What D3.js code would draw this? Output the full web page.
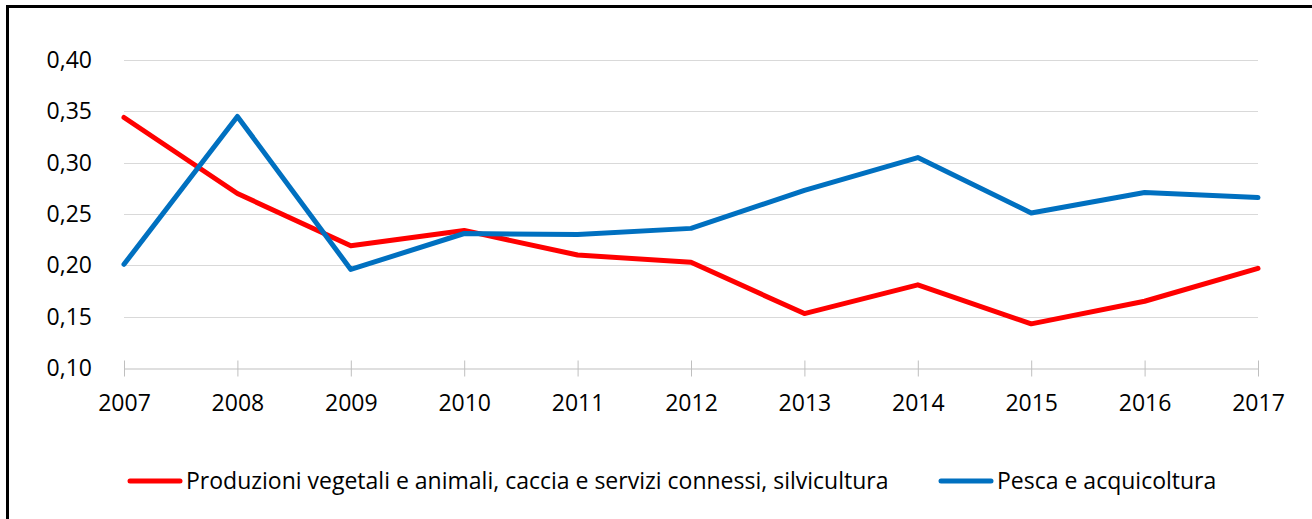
<!DOCTYPE html>
<html>
<head>
<meta charset="utf-8">
<script src="https://cdn.jsdelivr.net/npm/d3@7"></script>
<style>
	body { margin: 0; background: #fff; }
	svg { display: block; }
	text { font-family: "Open Sans", sans-serif; fill: #000; }
</style>
</head>
<body>
<div id="chartDiv"></div>
<script>
;(function() {

	// data
	var years = [2007, 2008, 2009, 2010, 2011, 2012, 2013, 2014, 2015, 2016, 2017];
	var produzioni = [0.344, 0.270, 0.219, 0.234, 0.210, 0.203, 0.153, 0.181, 0.143, 0.165, 0.197];
	var pesca = [0.201, 0.345, 0.196, 0.231, 0.230, 0.236, 0.273, 0.305, 0.251, 0.271, 0.266];
	var yTicks = [0.10, 0.15, 0.20, 0.25, 0.30, 0.35, 0.40];
	var seriesNames = ["Produzioni vegetali e animali, caccia e servizi connessi, silvicultura", "Pesca e acquicoltura"];
	var seriesColors = ["#ff0000", "#0070c0"];

	var width = 1312;
	var height = 519;
	var margin = { top: 60, right: 54, bottom: 151, left: 124 };
	var chartWidth = width - margin.left - margin.right;
	var chartHeight = height - margin.top - margin.bottom;
	var fontSize = "23px";

	var chart = d3.select("#chartDiv").append("svg")
		.attr("width", width)
		.attr("height", height);

	// frame (top + left edges visible)
	chart.append("path")
		.attr("d", "M7.5,519 L7.5,6.5 L1312,6.5")
		.attr("fill", "none")
		.attr("stroke", "#000")
		.attr("stroke-width", 3);

	var plot = chart.append("g")
		.attr("transform", "translate(" + margin.left + "," + margin.top + ")");

	var xScale = d3.scaleLinear()
		.domain([years[0], years[years.length - 1]])
		.range([0, chartWidth]);

	var yScale = d3.scaleLinear()
		.domain([0.10, 0.40])
		.range([chartHeight, 0]);

	// gridlines
	plot.append("g")
		.selectAll("line")
		.data(yTicks.slice(1))
		.enter().append("line")
		.attr("x1", 0)
		.attr("x2", chartWidth)
		.attr("y1", function(d) { return Math.round(yScale(d)) + 0.5; })
		.attr("y2", function(d) { return Math.round(yScale(d)) + 0.5; })
		.attr("stroke", "#d9d9d9")
		.attr("stroke-width", 1);

	// y axis labels
	var yAxis = d3.axisLeft(yScale)
		.tickValues(yTicks)
		.tickSize(0)
		.tickPadding(32)
		.tickFormat(function(d) { return d3.format(".2f")(d).replace(".", ","); });

	var yAxisG = plot.append("g").call(yAxis);
	yAxisG.select(".domain").remove();
	yAxisG.selectAll("text")
		.style("font-family", "'Open Sans', sans-serif")
		.style("font-size", fontSize)
		.attr("fill", "#000");

	// x axis with crossing ticks
	var xAxis = d3.axisBottom(xScale)
		.tickValues(years)
		.tickFormat(d3.format("d"))
		.tickSizeInner(8)
		.tickSizeOuter(0)
		.tickPadding(18);

	var xAxisG = plot.append("g")
		.attr("transform", "translate(0," + (Math.round(chartHeight) + 0.5) + ")")
		.call(xAxis);
	xAxisG.select(".domain").attr("stroke", "#bfbfbf");
	xAxisG.selectAll(".tick line")
		.attr("stroke", "#bfbfbf")
		.attr("y1", -8)
		.attr("y2", 8);
	xAxisG.selectAll("text")
		.style("font-family", "'Open Sans', sans-serif")
		.style("font-size", fontSize)
		.attr("fill", "#000");

	// lines
	var line = d3.line()
		.x(function(d, i) { return xScale(years[i]); })
		.y(function(d) { return yScale(d); });

	[produzioni, pesca].forEach(function(values, k) {
		plot.append("path")
			.datum(values)
			.attr("fill", "none")
			.attr("stroke", seriesColors[k])
			.attr("stroke-width", 5)
			.attr("stroke-linejoin", "round")
			.attr("stroke-linecap", "round")
			.attr("d", line);
	});

	// legend
	var legendY = 481;
	var legendX = [128, 939];
	seriesNames.forEach(function(name, k) {
		var g = chart.append("g")
			.attr("transform", "translate(" + legendX[k] + "," + legendY + ")");
		g.append("line")
			.attr("x1", 2).attr("x2", 52)
			.attr("y1", 0).attr("y2", 0)
			.attr("stroke", seriesColors[k])
			.attr("stroke-width", 5)
			.attr("stroke-linecap", "round");
		g.append("text")
			.attr("x", 58)
			.attr("y", 0)
			.attr("dy", "0.35em")
			.style("font-size", fontSize)
			.text(name);
	});

})();
</script>
</body>
</html>
